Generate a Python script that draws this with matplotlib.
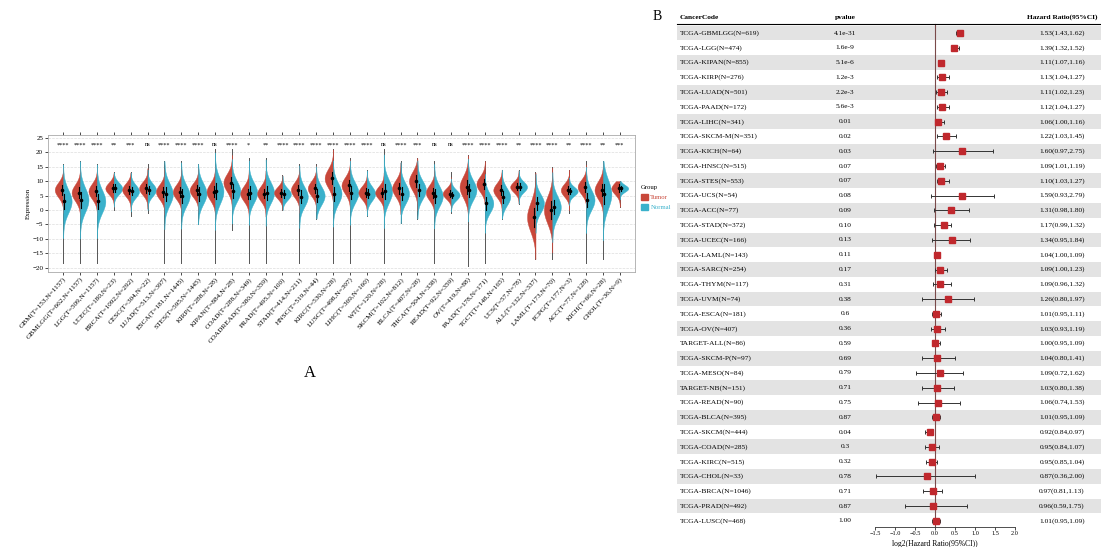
"""Pan-cancer expression split violins (A) and Cox forest table (B)."""

import matplotlib

matplotlib.use("Agg")
import matplotlib.pyplot as plt
import numpy as np
from matplotlib.patches import Patch

RED = "#C8473A"
BLUE = "#3AB1CB"
STRIPE = "#E3E3E3"

# ---- panel A: tumour vs normal expression per cancer type
cancers = [
    "GBM(T=153,N=1157)", "GBMLGG(T=662,N=1157)", "LGG(T=509,N=1157)", "UCEC(T=180,N=23)",
    "BRCA(T=1092,N=292)", "CESC(T=304,N=22)", "LUAD(T=513,N=397)", "ESCA(T=181,N=1445)",
    "STES(T=595,N=1445)", "KIRP(T=288,N=28)", "KIPAN(T=884,N=28)", "COAD(T=288,N=349)",
    "COADREAD(T=380,N=359)", "PRAD(T=495,N=100)", "STAD(T=414,N=211)", "HNSC(T=519,N=44)",
    "KIRC(T=530,N=28)", "LUSC(T=498,N=397)", "LIHC(T=369,N=160)", "WT(T=120,N=28)",
    "SKCM(T=102,N=812)", "BLCA(T=407,N=28)", "THCA(T=504,N=338)", "READ(T=92,N=359)",
    "OV(T=419,N=88)", "PAAD(T=178,N=171)", "TGCT(T=148,N=165)", "UCS(T=57,N=78)",
    "ALL(T=132,N=337)", "LAML(T=173,N=70)", "PCPG(T=177,N=3)", "ACC(T=77,N=128)",
    "KICH(T=66,N=28)", "CHOL(T=36,N=9)",
]
tumor_med = [7.0, 6.0, 6.5, 7.5, 7.0, 7.5, 6.3, 6.3, 6.9, 6.3, 9.5, 5.7, 5.7, 6.0, 7.0, 7.5, 11.0,
             8.5, 6.0, 6.0, 7.5, 10.0, 6.0, 5.7, 8.0, 9.0, 6.9, 8.0, -2.5, 0.0, 6.9, 8.0, 6.9, 7.5]
tumor_sd = [2.5, 2.8, 2.6, 2.0, 2.2, 2.2, 2.5, 2.5, 2.4, 2.8, 3.0, 2.6, 2.5, 2.0, 2.5, 2.5, 3.2,
            2.8, 2.2, 2.2, 2.8, 3.2, 2.6, 1.8, 3.6, 2.6, 2.4, 1.8, 5.0, 4.6, 2.2, 2.4, 3.0, 2.0]
normal_med = [3.0, 3.5, 3.0, 7.5, 6.5, 7.0, 5.5, 5.0, 5.7, 6.5, 6.5, 6.0, 6.0, 5.5, 4.6, 5.0, 5.7,
              6.0, 5.7, 6.5, 5.7, 7.0, 4.8, 5.2, 6.9, 2.3, 4.6, 8.0, 2.3, 1.0, 6.5, 3.5, 5.5, 7.5]
normal_sd = [4.0, 4.2, 4.0, 2.0, 2.2, 2.2, 3.8, 3.6, 3.6, 4.2, 3.5, 3.5, 3.6, 2.0, 3.4, 3.2, 3.6,
             3.5, 2.5, 4.0, 3.4, 3.2, 3.5, 1.8, 3.4, 3.2, 3.0, 1.8, 3.2, 3.8, 1.5, 3.6, 5.0, 1.2]
tail_top = [16, 17, 16, 13, 13, 16, 17, 17, 16, 21, 21, 18, 18, 12, 16, 16, 21,
            18, 14, 21, 17, 18, 17, 13, 19, 17, 14, 14, 13, 15, 14, 17, 17, 10]
tail_bottom = [-18.5, -18.5, -18.5, 0, -2, -1, -18.5, -18.5, -5, -18.5, -7, -18.5, -18.5, 0,
               -18.5, -3, -18.5, -18.5, -2, -18.5, -4.6, -3, -18.5, -1, -19.5, -18.5, -3, 2,
               -17, -17, -1, -18.5, -17, 1]
signif = ["****", "****", "****", "**", "***", "ns", "****", "****", "****", "ns", "****", "*",
          "**", "****", "****", "****", "****", "****", "****", "ns", "****", "***", "ns", "ns",
          "****", "****", "****", "**", "****", "****", "**", "****", "**", "***"]

# ---- panel B: univariate Cox per cohort
cohorts = [
    "TCGA-GBMLGG(N=619)", "TCGA-LGG(N=474)", "TCGA-KIPAN(N=855)", "TCGA-KIRP(N=276)",
    "TCGA-LUAD(N=501)", "TCGA-PAAD(N=172)", "TCGA-LIHC(N=341)", "TCGA-SKCM-M(N=351)",
    "TCGA-KICH(N=64)", "TCGA-HNSC(N=515)", "TCGA-STES(N=553)", "TCGA-UCS(N=54)",
    "TCGA-ACC(N=77)", "TCGA-STAD(N=372)", "TCGA-UCEC(N=166)", "TCGA-LAML(N=143)",
    "TCGA-SARC(N=254)", "TCGA-THYM(N=117)", "TCGA-UVM(N=74)", "TCGA-ESCA(N=181)",
    "TCGA-OV(N=407)", "TARGET-ALL(N=86)", "TCGA-SKCM-P(N=97)", "TCGA-MESO(N=84)",
    "TARGET-NB(N=151)", "TCGA-READ(N=90)", "TCGA-BLCA(N=395)", "TCGA-SKCM(N=444)",
    "TCGA-COAD(N=285)", "TCGA-KIRC(N=515)", "TCGA-CHOL(N=33)", "TCGA-BRCA(N=1046)",
    "TCGA-PRAD(N=492)", "TCGA-LUSC(N=468)",
]
pvalues = ["4.1e-31", "1.6e-9", "5.1e-6", "1.2e-3", "2.2e-3", "5.6e-3", "0.01", "0.02", "0.03",
           "0.07", "0.07", "0.08", "0.09", "0.10", "0.13", "0.11", "0.17", "0.31", "0.38", "0.6",
           "0.36", "0.59", "0.69", "0.79", "0.71", "0.75", "0.87", "0.04", "0.3", "0.32", "0.78",
           "0.71", "0.87", "1.00"]
hr = [1.53, 1.39, 1.11, 1.13, 1.11, 1.12, 1.06, 1.22, 1.60, 1.09, 1.10, 1.59, 1.31, 1.17, 1.34,
      1.04, 1.09, 1.09, 1.26, 1.01, 1.03, 1.00, 1.04, 1.09, 1.03, 1.06, 1.01, 0.92, 0.95, 0.95,
      0.87, 0.97, 0.96, 1.01]
hr_low = [1.43, 1.32, 1.07, 1.04, 1.02, 1.04, 1.00, 1.03, 0.97, 1.01, 1.03, 0.93, 0.98, 0.99,
          0.95, 1.00, 1.00, 0.96, 0.80, 0.95, 0.93, 0.95, 0.80, 0.72, 0.80, 0.74, 0.95, 0.84,
          0.84, 0.85, 0.36, 0.81, 0.59, 0.95]
hr_high = [1.62, 1.52, 1.16, 1.27, 1.23, 1.27, 1.16, 1.45, 2.75, 1.19, 1.27, 2.79, 1.80, 1.32,
           1.84, 1.09, 1.23, 1.32, 1.97, 1.11, 1.19, 1.09, 1.41, 1.62, 1.38, 1.53, 1.09, 0.97,
           1.07, 1.04, 2.00, 1.13, 1.75, 1.09]

plt.rcParams.update({"font.family": ["Liberation Serif", "DejaVu Serif"], "axes.linewidth": 0.6})

W, H = 1101, 547
fig = plt.figure(figsize=(W / 100, H / 100), dpi=100)


def half_violin(ax, x, med, sd, lo, hi, side, color):
    ys = np.linspace(max(med - 3.2 * sd, lo), min(med + 3.2 * sd, hi), 120)
    dens = np.exp(-0.5 * ((ys - med) / sd) ** 2) * 0.5
    if side < 0:
        ax.fill_betweenx(ys, x - dens, x, color=color, lw=0.3, zorder=3)
    else:
        ax.fill_betweenx(ys, x, x + dens, color=color, lw=0.3, zorder=3)
    off = 0.07 * side
    ax.plot([x + off, x + off], [med - 0.67 * sd, med + 0.67 * sd], color="black", lw=0.8, zorder=4)
    ax.plot(x + off, med, "o", color="black", ms=1.6, zorder=5)


axA = fig.add_axes([48 / W, (H - 272) / H, 587 / W, 137 / H])
n = len(cancers)
for i in range(n):
    axA.plot([i, i], [tail_bottom[i], tail_top[i]], color="#555555", lw=0.7, zorder=2)
    half_violin(axA, i, tumor_med[i], tumor_sd[i], tail_bottom[i], tail_top[i], -1, RED)
    half_violin(axA, i, normal_med[i], normal_sd[i], tail_bottom[i], tail_top[i], 1, BLUE)
    axA.text(i, 22.6, signif[i], ha="center", va="center", fontsize=4.5)
axA.set_xlim(-0.9, n - 0.1)
axA.set_ylim(-21.5, 26)
axA.set_yticks(range(-20, 26, 5))
axA.set_xticks(range(n))
axA.set_xticklabels(cancers, rotation=48, ha="right", rotation_mode="anchor", fontsize=5.2)
axA.tick_params(axis="y", labelsize=5, length=2, width=0.5, pad=1.5)
axA.tick_params(axis="x", length=2, width=0.5, top=True, pad=1)
axA.grid(axis="y", color="#DDDDDD", lw=0.5, ls="--")
axA.set_axisbelow(True)
for s in axA.spines.values():
    s.set_color("#AAAAAA")
axA.set_ylabel("Expression", fontsize=5)
axA.yaxis.set_label_coords(-0.03, 0.5)
leg = axA.legend(handles=[Patch(color=RED, label="Tumor"), Patch(color=BLUE, label="Normal")],
                 title="Group", loc="upper left", bbox_to_anchor=(1.0, 0.68), frameon=False,
                 fontsize=4.8, title_fontsize=4.8, labelcolor=[RED, BLUE],
                 handlelength=1.0, handleheight=1.0, handletextpad=0.4, labelspacing=0.6)
leg._legend_box.align = "left"
fig.text(310 / W, 1 - 373 / H, "A", fontsize=12, ha="center", va="center")

# ---- panel B
axB = fig.add_axes([675 / W, 20 / H, 426 / W, 517 / H])
rows = np.arange(len(cohorts))
axB.set_xlim(-6.5, 4.15)
axB.set_ylim(33.42, -1.556)
for i in rows[::2]:
    axB.axhspan(i - 0.5, i + 0.5, xmin=2 / 426, color=STRIPE, lw=0, zorder=0)
axB.axhline(-0.6, xmin=2 / 426, color="black", lw=0.8)
axB.plot([0, 0], [-0.6, 33.45], color="#7a4a4a", lw=0.8, zorder=1)

lg = np.log2(hr)
axB.errorbar(lg, rows, xerr=[lg - np.log2(hr_low), np.log2(hr_high) - lg], fmt="s",
             color="#C0282D", ms=4, ecolor="#333333", elinewidth=0.7, capsize=1.5,
             capthick=0.7, zorder=3)

x_label, x_p, x_hr = -6.375, -2.25, 3.175
axB.text(x_label, -1.05, "CancerCode", fontsize=5.3, fontweight="bold", va="center")
axB.text(x_p, -1.05, "pvalue", fontsize=5.3, fontweight="bold", va="center", ha="center")
axB.text(x_hr, -1.05, "Hazard Ratio(95%CI)", fontsize=5.3, fontweight="bold", va="center",
         ha="center")
for i in rows:
    axB.text(x_label, i, cohorts[i], fontsize=5.3, va="center")
    axB.text(x_p, i, pvalues[i], fontsize=5.3, va="center", ha="center")
    axB.text(x_hr, i, f"{hr[i]:.2f}({hr_low[i]:.2f},{hr_high[i]:.2f})", fontsize=5.3,
             va="center", ha="center")

for side in ["top", "right", "left"]:
    axB.spines[side].set_visible(False)
axB.spines["bottom"].set_bounds(-1.5, 2.0)
axB.spines["bottom"].set_color("#333333")
axB.set_yticks([])
axB.set_xticks(np.arange(-1.5, 2.01, 0.5))
axB.tick_params(axis="x", labelsize=4.5, length=2, width=0.5, pad=1)
axB.set_xlabel("log2(Hazard Ratio(95%CI))", fontsize=5.5)
axB.xaxis.set_label_coords(0.61, -0.025)
fig.text(657 / W, 1 - 17 / H, "B", fontsize=10, ha="center", va="center")

fig.savefig("out.png", dpi=100)
